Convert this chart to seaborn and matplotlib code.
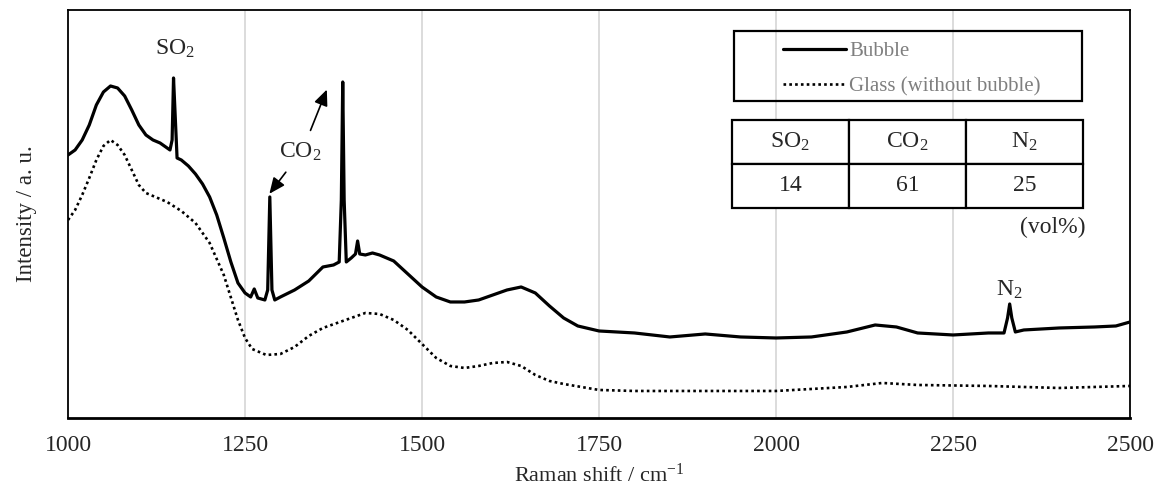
import numpy as np
import matplotlib
matplotlib.use("Agg")
import matplotlib.pyplot as plt
import seaborn as sns
from matplotlib.patches import Rectangle

bubble_x = [1000, 1010, 1020, 1030, 1040, 1050, 1060, 1070, 1080, 1090, 1100, 1110, 1120, 1130,
            1140, 1144, 1147, 1149, 1151, 1154, 1160, 1170, 1180, 1190, 1200, 1210, 1220, 1230,
            1240, 1250, 1258, 1263, 1268, 1278, 1282, 1285, 1288, 1292, 1300, 1320, 1340, 1360,
            1375, 1383, 1386, 1388, 1390, 1393, 1400, 1406, 1409, 1412, 1420, 1430, 1440, 1460,
            1480, 1500, 1520, 1540, 1560, 1580, 1600, 1620, 1640, 1660, 1680, 1700, 1720, 1750,
            1800, 1850, 1900, 1950, 2000, 2050, 2100, 2140, 2170, 2200, 2250, 2300, 2322, 2327,
            2330, 2333, 2338, 2350, 2400, 2450, 2480, 2500]
bubble_y = [263, 268, 278, 293, 313, 326, 332, 330, 322, 308, 293, 283, 278, 275,
            270, 268, 278, 340, 308, 260, 258, 252, 244, 234, 221, 203, 180, 156,
            135, 125, 121, 129, 120, 118, 128, 221, 128, 118, 121, 128, 137, 151,
            153, 156, 218, 336, 218, 156, 160, 164, 177, 164, 163, 165, 163, 157,
            144, 131, 121, 116, 116, 118, 123, 128, 131, 125, 112, 100, 92, 87,
            85, 81, 84, 81, 80, 81, 86, 93, 91, 85, 83, 85, 85, 100,
            114, 100, 86, 88, 90, 91, 92, 96]

glass_x = [1000, 1010, 1020, 1030, 1040, 1050, 1060, 1070, 1080, 1090, 1100, 1110, 1120, 1140,
           1160, 1180, 1200, 1220, 1240, 1250, 1260, 1280, 1300, 1320, 1340, 1360, 1380, 1400,
           1420, 1440, 1460, 1480, 1500, 1520, 1540, 1560, 1580, 1600, 1620, 1640, 1660, 1680,
           1700, 1750, 1800, 1900, 2000, 2100, 2150, 2200, 2300, 2400, 2500]
glass_y = [198, 208, 223, 240, 258, 272, 278, 273, 263, 248, 233, 225, 222, 216,
           207, 195, 175, 143, 98, 80, 69, 63, 64, 71, 82, 90, 95, 100,
           105, 104, 98, 88, 74, 60, 52, 50, 52, 55, 56, 52, 43, 37,
           34, 28, 27, 27, 27, 31, 35, 33, 32, 30, 32]

# Tabla de composicion del gas
gases = ["SO$_2$", "CO$_2$", "N$_2$"]
vol_pct = ["14", "61", "25"]

sns.set_theme(style="white")
plt.rcParams["font.family"] = ["Liberation Serif", "DejaVu Serif"]
plt.rcParams["mathtext.fontset"] = "custom"
plt.rcParams["mathtext.rm"] = "Liberation Serif"
plt.rcParams["mathtext.it"] = "Liberation Serif:italic"

fig, ax = plt.subplots(figsize=(11.57, 4.90), dpi=100)
fig.subplots_adjust(left=0.0588, right=0.9767, top=0.9796, bottom=0.147)

# Lineas de cuadricula verticales
for xv in [1250, 1500, 1750, 2000, 2250]:
    ax.axvline(xv, color="#d9d9d9", lw=1.3, zorder=0)

sns.lineplot(x=bubble_x, y=bubble_y, ax=ax, color="black", lw=2.3, label="Bubble", sort=False)
sns.lineplot(x=glass_x, y=glass_y, ax=ax, color="black", lw=1.9, linestyle=(0, (1, 1.2)),
             label="Glass (without bubble)", sort=False)

ax.set_xlim(1000, 2500)
ax.set_ylim(0, 408)
ax.set_xticks([1000, 1250, 1500, 1750, 2000, 2250, 2500])
ax.set_yticks([])
ax.tick_params(axis="x", length=0, pad=12, labelsize=17)
ax.set_xlabel("Raman shift / cm$^{-1}$", fontsize=16, labelpad=6)
ax.set_ylabel("Intensity / a. u.", fontsize=16.5, labelpad=22)
for s in ax.spines.values():
    s.set_color("black")
    s.set_linewidth(1.3)
ax.spines["bottom"].set_linewidth(2.0)

# Etiquetas de los picos
ax.text(1151, 369, "SO$_2$", fontsize=17, ha="center", va="center")
ax.text(1328, 266, "CO$_2$", fontsize=17, ha="center", va="center")
ax.text(2329, 128, "N$_2$", fontsize=17, ha="center", va="center")
flecha = dict(arrowstyle="-|>,head_length=0.8,head_width=0.35", color="black", lw=1.2)
ax.annotate("", xy=(1282, 222), xytext=(1310, 248), arrowprops=flecha)
ax.annotate("", xy=(1367, 331), xytext=(1341, 285), arrowprops=flecha)

# Leyenda dentro de un recuadro
ax.add_patch(Rectangle((0.627, 0.777), 0.328, 0.172, transform=ax.transAxes,
                       fill=False, edgecolor="black", lw=1.6, zorder=5))
leg = ax.legend(loc="upper left", bbox_to_anchor=(0.6735, 0.922), frameon=False,
                fontsize=15, handlelength=3.0, handletextpad=0.15, labelspacing=0.75,
                borderpad=0, borderaxespad=0)
for t in leg.get_texts():
    t.set_color("#7f7f7f")

# Tabla de composicion
tabla = ax.table(cellText=[gases, vol_pct], cellLoc="center",
                 bbox=[0.625, 0.515, 0.331, 0.215])
tabla.auto_set_font_size(False)
tabla.set_fontsize(17)
for celda in tabla.get_celld().values():
    celda.set_linewidth(1.6)
    celda.set_edgecolor("black")
    celda.set_facecolor("white")
ax.text(0.958, 0.466, "(vol%)", transform=ax.transAxes, fontsize=17, ha="right", va="center")

plt.savefig("out.png", dpi=100)
